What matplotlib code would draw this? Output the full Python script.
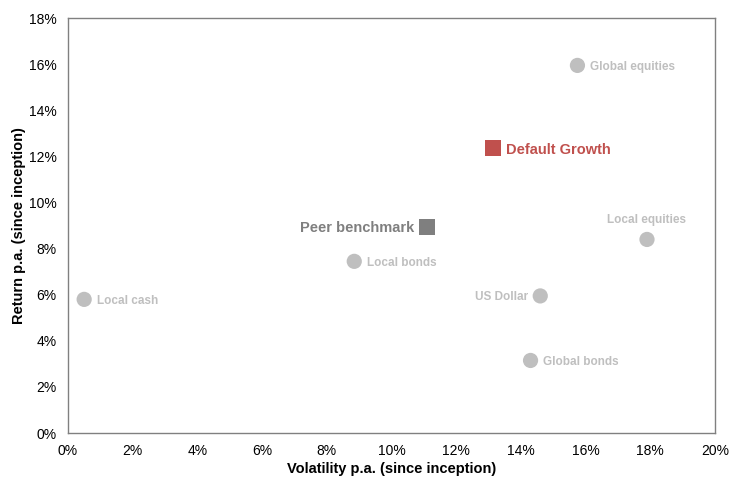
import matplotlib
matplotlib.use("Agg")
import matplotlib.pyplot as plt
from matplotlib.ticker import FuncFormatter

plt.rcParams["font.family"] = ["Liberation Sans", "DejaVu Sans"]

# asset classes (grey circles)
asset_names = ["Local cash", "Local bonds", "Global equities", "Local equities", "US Dollar", "Global bonds"]
asset_vol = [0.5, 8.85, 15.75, 17.9, 14.6, 14.3]
asset_ret = [5.8, 7.45, 15.95, 8.4, 5.95, 3.15]

# funds (squares)
fund_names = ["Default Growth", "Peer benchmark"]
fund_vol = [13.15, 11.1]
fund_ret = [12.35, 8.95]
fund_colors = ["#C0504D", "#7F7F7F"]

x_ticks = list(range(0, 21, 2))
y_ticks = list(range(0, 19, 2))

fig = plt.figure(figsize=(7.31, 4.78), dpi=100)
ax = fig.add_axes([0.093, 0.094, 0.885, 0.868])

ax.scatter(asset_vol, asset_ret, s=120, color="#BFBFBF", edgecolors="none", zorder=3)
ax.scatter(fund_vol, fund_ret, s=130, marker="s", color=fund_colors, edgecolors="none", zorder=3)

# label placement: (dx, dy in points, ha, va)
asset_pos = {
    "Local cash": (9, -1, "left", "center"),
    "Local bonds": (9, -1, "left", "center"),
    "Global equities": (9, -1, "left", "center"),
    "Local equities": (0, 10, "center", "bottom"),
    "US Dollar": (-9, -1, "right", "center"),
    "Global bonds": (9, -1, "left", "center"),
}
for name, x, y in zip(asset_names, asset_vol, asset_ret):
    dx, dy, ha, va = asset_pos[name]
    ax.annotate(name, (x, y), xytext=(dx, dy), textcoords="offset points",
                ha=ha, va=va, fontsize=8.5, fontweight="bold", color="#BFBFBF")

ax.annotate("Default Growth", (fund_vol[0], fund_ret[0]), xytext=(9, -1.5), textcoords="offset points",
            ha="left", va="center", fontsize=10.5, fontweight="bold", color="#C0504D")
ax.annotate("Peer benchmark", (fund_vol[1], fund_ret[1]), xytext=(-9, -1), textcoords="offset points",
            ha="right", va="center", fontsize=10.5, fontweight="bold", color="#7F7F7F")

ax.set_xlim(0, 20)
ax.set_ylim(0, 18)
ax.set_xticks(x_ticks)
ax.set_yticks(y_ticks)
pct = FuncFormatter(lambda v, p: f"{v:.0f}%")
ax.xaxis.set_major_formatter(pct)
ax.yaxis.set_major_formatter(pct)
ax.tick_params(length=0, labelsize=10, pad=8, colors="#000000")
for s in ax.spines.values():
    s.set_color("#808080")
    s.set_linewidth(1.0)

ax.set_xlabel("Volatility p.a. (since inception)", fontsize=10.5, fontweight="bold", labelpad=3)
ax.set_ylabel("Return p.a. (since inception)", fontsize=10.5, fontweight="bold", labelpad=2)

fig.savefig("out.png", dpi=100)
